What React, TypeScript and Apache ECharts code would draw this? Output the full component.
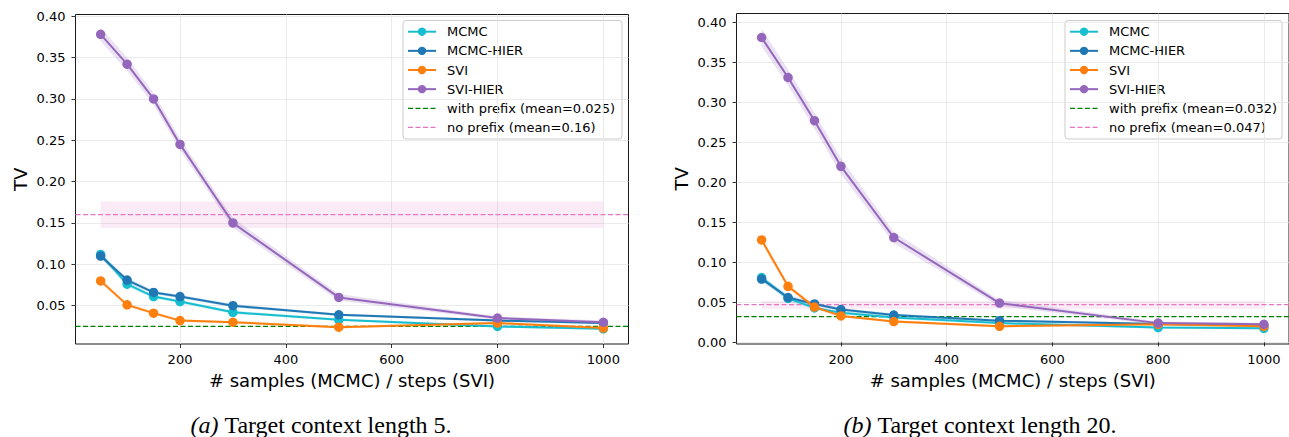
import { useEffect, useRef } from 'react';
import * as echarts from 'echarts';

// ---------- data ----------
const xSteps = [50, 100, 150, 200, 300, 500, 800, 1000];
const seriesNames = ['MCMC', 'MCMC-HIER', 'SVI', 'SVI-HIER'];
const seriesColors = ['#17becf', '#1f77b4', '#ff7f0e', '#9467bd'];

// (a) target context length 5
const mcmcA = [0.112, 0.076, 0.061, 0.055, 0.042, 0.033, 0.025, 0.022];
const mcmcHierA = [0.110, 0.081, 0.066, 0.061, 0.050, 0.039, 0.032, 0.029];
const sviA = [0.080, 0.051, 0.041, 0.032, 0.030, 0.024, 0.029, 0.023];
const sviHierA = [0.378, 0.342, 0.300, 0.245, 0.150, 0.060, 0.035, 0.030];
const mcmcErrA = [0.003, 0.003, 0.002, 0.002, 0.002, 0.0015, 0.0015, 0.0015];
const mcmcHierErrA = [0.003, 0.003, 0.002, 0.002, 0.002, 0.0015, 0.0015, 0.0015];
const sviErrA = [0.003, 0.002, 0.002, 0.0015, 0.0015, 0.0015, 0.0015, 0.0015];
const sviHierErrA = [0.008, 0.008, 0.007, 0.007, 0.006, 0.004, 0.002, 0.002];
const withPrefixA = 0.025;
const noPrefixA = 0.16;
const noPrefixHalfA = 0.016;

// (b) target context length 20
const mcmcB = [0.081, 0.055, 0.043, 0.037, 0.031, 0.024, 0.0185, 0.0175];
const mcmcHierB = [0.079, 0.056, 0.048, 0.041, 0.034, 0.027, 0.023, 0.021];
const sviB = [0.128, 0.070, 0.044, 0.033, 0.026, 0.020, 0.0225, 0.020];
const sviHierB = [0.381, 0.331, 0.277, 0.220, 0.131, 0.049, 0.024, 0.0225];
const mcmcErrB = [0.003, 0.003, 0.002, 0.002, 0.002, 0.0015, 0.0015, 0.0015];
const mcmcHierErrB = [0.003, 0.003, 0.002, 0.002, 0.002, 0.0015, 0.0015, 0.0015];
const sviErrB = [0.004, 0.003, 0.002, 0.0015, 0.0015, 0.0015, 0.0015, 0.0015];
const sviHierErrB = [0.011, 0.010, 0.010, 0.010, 0.007, 0.004, 0.002, 0.002];
const withPrefixB = 0.032;
const noPrefixB = 0.047;
const noPrefixHalfB = 0.005;

const prefixBandX = [50, 1000];
const captionTags = ['(a)', '(b)'];
const captionTexts = ['Target context length 5.', 'Target context length 20.'];
const xAxisTitle = '# samples (MCMC) / steps (SVI)';
const yAxisTitle = 'TV';

const X_MIN = 2.5;
const X_MAX = 1047.5;

const FONT = 'DejaVu Sans';
const SERIF = 'Liberation Serif';

function hexToRgba(hex: string, a: number) {
  const n = parseInt(hex.slice(1), 16);
  return `rgba(${(n >> 16) & 255},${(n >> 8) & 255},${n & 255},${a})`;
}

function bandSeries(idx: number, xs: number[], lo: number[], hi: number[], fill: string, z: number) {
  const data = xs.map((x, i) => [x, lo[i], hi[i]]);
  return {
    type: 'custom',
    xAxisIndex: idx,
    yAxisIndex: idx,
    silent: true,
    z,
    clip: true,
    encode: { x: 0, y: [1, 2] },
    data,
    renderItem: (params: any, api: any) => {
      if (params.dataIndex !== 0) return null;
      const top = data.map((d) => api.coord([d[0], d[2]]));
      const bottom = data.map((d) => api.coord([d[0], d[1]])).reverse();
      return {
        type: 'polygon',
        shape: { points: top.concat(bottom) },
        style: { fill, stroke: 'none' },
      };
    },
  };
}

function plotSeries(
  idx: number,
  values: number[][],
  errs: number[][],
  withMean: number,
  noMean: number,
  noHalf: number,
  withName: string,
  noName: string,
) {
  const out: any[] = [];
  out.push(
    bandSeries(
      idx,
      prefixBandX,
      prefixBandX.map(() => noMean - noHalf),
      prefixBandX.map(() => noMean + noHalf),
      'rgba(227,119,194,0.15)',
      1,
    ),
  );
  values.forEach((vals, s) => {
    out.push(
      bandSeries(
        idx,
        xSteps,
        vals.map((v, i) => v - errs[s][i]),
        vals.map((v, i) => v + errs[s][i]),
        hexToRgba(seriesColors[s], 0.2),
        2,
      ),
    );
  });
  out.push({
    type: 'line',
    name: withName,
    xAxisIndex: idx,
    yAxisIndex: idx,
    data: [
      [X_MIN, withMean],
      [X_MAX, withMean],
    ],
    symbol: 'none',
    silent: true,
    z: 3,
    lineStyle: { color: '#008000', width: 1.2, type: [5, 2.5] },
  });
  out.push({
    type: 'line',
    name: noName,
    xAxisIndex: idx,
    yAxisIndex: idx,
    data: [
      [X_MIN, noMean],
      [X_MAX, noMean],
    ],
    symbol: 'none',
    silent: true,
    z: 3,
    lineStyle: { color: '#e377c2', width: 1.2, type: [5, 2.5] },
  });
  values.forEach((vals, s) => {
    out.push({
      type: 'line',
      name: seriesNames[s],
      xAxisIndex: idx,
      yAxisIndex: idx,
      data: xSteps.map((x, i) => [x, vals[i]]),
      symbol: 'circle',
      symbolSize: 9.5,
      showSymbol: true,
      silent: true,
      z: 4 + s,
      lineStyle: { color: seriesColors[s], width: 2 },
      itemStyle: { color: seriesColors[s] },
    });
  });
  return out;
}

function legendGraphic(boxX: number, boxW: number, withName: string, noName: string) {
  const items = [
    ...seriesNames.map((n, i) => ({ name: n, color: seriesColors[i], dashed: false })),
    { name: withName, color: '#008000', dashed: true },
    { name: noName, color: '#e377c2', dashed: true },
  ];
  const children: any[] = [
    {
      type: 'rect',
      shape: { x: boxX, y: 20.5, width: boxW, height: 118.5, r: 3 },
      style: { fill: 'rgba(255,255,255,0.8)', stroke: '#cccccc', lineWidth: 1 },
    },
  ];
  const lx = boxX + 5;
  items.forEach((it, i) => {
    const cy = 31.7 + i * 19.15;
    children.push({
      type: 'line',
      shape: { x1: lx, y1: cy, x2: lx + 28, y2: cy },
      style: it.dashed
        ? { stroke: it.color, lineWidth: 1.2, lineDash: [5, 2.5] }
        : { stroke: it.color, lineWidth: 2 },
    });
    if (!it.dashed) {
      children.push({
        type: 'circle',
        shape: { cx: lx + 14, cy, r: 4.2 },
        style: { fill: it.color },
      });
    }
    children.push({
      type: 'text',
      style: {
        text: it.name,
        x: lx + 39,
        y: cy,
        fill: '#000',
        font: `13px "${FONT}"`,
        align: 'left',
        verticalAlign: 'middle',
      },
    });
  });
  return { type: 'group', z: 100, children };
}

function captionGraphic(cx: number, tag: string, text: string) {
  return {
    type: 'text',
    z: 100,
    style: {
      text: `{i|${tag}}{n|\u00a0${text}}`,
      x: cx,
      y: 425,
      align: 'center',
      verticalAlign: 'middle',
      fill: '#000',
      rich: {
        i: { fontFamily: SERIF, fontStyle: 'italic', fontSize: 24, fill: '#000' },
        n: { fontFamily: SERIF, fontSize: 24, fill: '#000' },
      },
    },
  };
}

function xAxisDef(idx: number) {
  return {
    type: 'value',
    gridIndex: idx,
    min: X_MIN,
    max: X_MAX,
    minInterval: 200,
    maxInterval: 200,
    splitNumber: 5,
    name: xAxisTitle,
    nameLocation: 'middle',
    nameGap: 27,
    nameTextStyle: { fontFamily: FONT, fontSize: 18, color: '#000' },
    axisLine: { show: false },
    axisTick: { show: true, length: 4, lineStyle: { color: '#000', width: 0.8 } },
    axisLabel: {
      show: true,
      margin: 9,
      fontFamily: FONT,
      fontSize: 13,
      color: '#000',
      showMinLabel: false,
      showMaxLabel: false,
      formatter: (v: number) => String(Math.round(v)),
    },
    splitLine: {
      show: true,
      showMinLine: false,
      showMaxLine: false,
      lineStyle: { color: '#e6e6e6', width: 0.8 },
    },
  };
}

function yAxisDef(idx: number, min: number, max: number) {
  return {
    type: 'value',
    gridIndex: idx,
    min,
    max,
    minInterval: 0.05,
    maxInterval: 0.05,
    splitNumber: 8,
    name: yAxisTitle,
    nameLocation: 'middle',
    nameRotate: 90,
    nameGap: 46,
    nameTextStyle: { fontFamily: FONT, fontSize: 18, color: '#000' },
    axisLine: { show: false },
    axisTick: { show: true, length: 4, lineStyle: { color: '#000', width: 0.8 } },
    axisLabel: {
      show: true,
      margin: 10,
      fontFamily: FONT,
      fontSize: 13,
      color: '#000',
      showMinLabel: false,
      showMaxLabel: false,
      formatter: (v: number) => v.toFixed(2),
    },
    splitLine: {
      show: true,
      showMinLine: false,
      showMaxLine: false,
      lineStyle: { color: '#e6e6e6', width: 0.8 },
    },
  };
}

export default function App() {
  const ref = useRef<HTMLDivElement>(null);
  useEffect(() => {
    if (!ref.current) return;
    const chart = echarts.init(ref.current, null, { renderer: 'svg' });
    const withNameA = `with prefix (mean=${withPrefixA})`;
    const noNameA = `no prefix (mean=${noPrefixA})`;
    const withNameB = `with prefix (mean=${withPrefixB})`;
    const noNameB = `no prefix (mean=${noPrefixB})`;
    chart.setOption({
      animation: false,
      backgroundColor: '#ffffff',
      grid: [
        { left: 75.5, top: 14.5, width: 553, height: 329.5, show: true, borderColor: '#1a1a1a', borderWidth: 1, backgroundColor: 'transparent', containLabel: false, z: 0 },
        { left: 736.5, top: 13.5, width: 554, height: 330.5, show: true, borderColor: '#1a1a1a', borderWidth: 1, backgroundColor: 'transparent', containLabel: false, z: 0 },
      ],
      xAxis: [xAxisDef(0), xAxisDef(1)],
      yAxis: [yAxisDef(0, 0.0037, 0.402), yAxisDef(1, -0.0021, 0.411)],
      series: [
        ...plotSeries(0, [mcmcA, mcmcHierA, sviA, sviHierA], [mcmcErrA, mcmcHierErrA, sviErrA, sviHierErrA], withPrefixA, noPrefixA, noPrefixHalfA, withNameA, noNameA),
        ...plotSeries(1, [mcmcB, mcmcHierB, sviB, sviHierB], [mcmcErrB, mcmcHierErrB, sviErrB, sviHierErrB], withPrefixB, noPrefixB, noPrefixHalfB, withNameB, noNameB),
      ],
      graphic: [
        legendGraphic(403, 219, withNameA, noNameA),
        legendGraphic(1065, 217, withNameB, noNameB),
        captionGraphic(321, captionTags[0], captionTexts[0]),
        captionGraphic(980, captionTags[1], captionTexts[1]),
      ],
    });
    return () => chart.dispose();
  }, []);
  return (
    <div
      ref={ref}
      style={{ position: 'absolute', left: 0, top: 0, width: 1289, height: 437 }}
    />
  );
}
